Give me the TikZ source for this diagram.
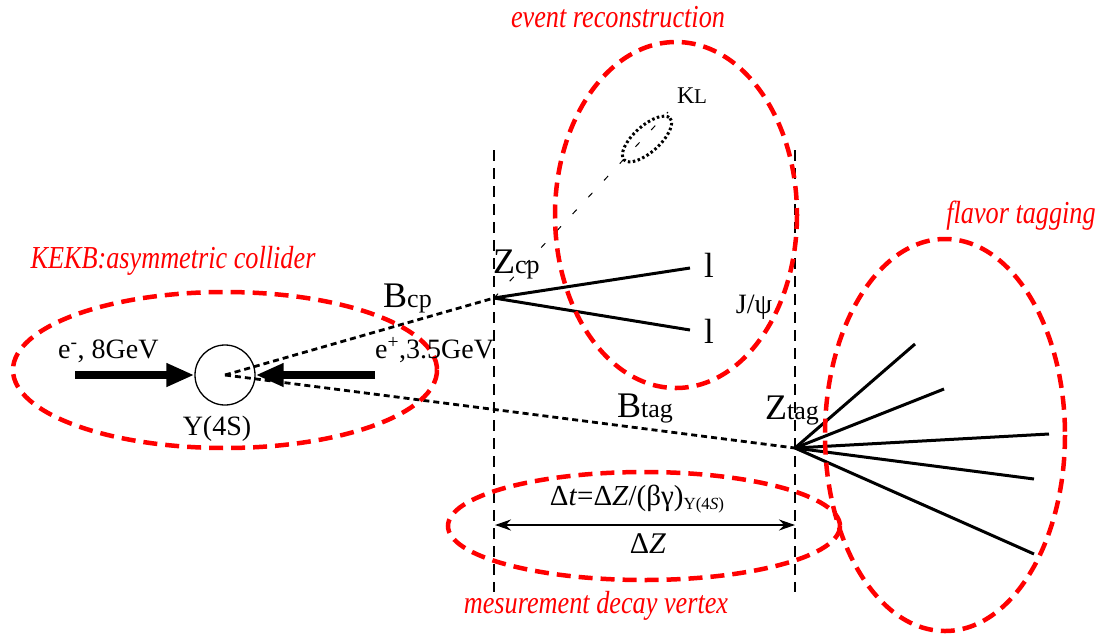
\documentclass[tikz,border=0pt]{standalone}
\usepackage{fontspec}
\setmainfont{Liberation Serif}
\newfontfamily\redfont{Liberation Serif}[FakeStretch=0.82]
\usetikzlibrary{arrows.meta}
\definecolor{kred}{RGB}{255,0,0}
\tikzset{
  reddash/.style={draw=kred, line width=4.5pt, dash pattern=on 14pt off 8pt},
  vline/.style={line width=2.5pt, dash pattern=on 11pt off 7pt},
  bline/.style={line width=2.8pt, dash pattern=on 6pt off 4pt},
  track/.style={line width=3pt},
  beam/.style={line width=8pt, -{Triangle[length=28pt,width=22pt]}},
  lbl/.style={inner sep=0pt, anchor=base, font=\fontsize{28}{30}\selectfont},
  redlbl/.style={inner sep=0pt, anchor=base, text=kred, font=\redfont\itshape\fontsize{32}{34}\selectfont},
  big/.style={inner sep=0pt, anchor=base west},
}
\newcommand{\sublbl}[2]{{\fontsize{36}{38}\selectfont #1}{\fontsize{26}{28}\selectfont #2}}
\begin{document}
\begin{tikzpicture}[x=1pt,y=-1pt]
\useasboundingbox (0,0) rectangle (1101,633);
% key points
\coordinate (zcp) at (494,298);
\coordinate (ztag) at (795,448);
\coordinate (v1t) at (494,150);
\coordinate (v1b) at (494,592);
\coordinate (v2t) at (795,150);
\coordinate (v2b) at (795,592);
\coordinate (eminus) at (75,375);
\coordinate (eplus) at (375,375);
\coordinate (l1) at (690,268);
\coordinate (l2) at (690,330);
\coordinate (kl) at (668,112);
\coordinate (f1) at (915,344);
\coordinate (f2) at (944,389);
\coordinate (f3) at (1049,434);
\coordinate (f4) at (1034,479);
\coordinate (f5) at (1034,554);
\coordinate (dza) at (495,525);
\coordinate (dzb) at (795,525);

% Y(4S)
\node[circle, draw, line width=1.3pt, minimum size=60pt, inner sep=0pt] (Y) at (225,375) {};

% vertical dashed lines
\draw[vline] (v1t) -- (v1b);
\draw[vline] (v2t) -- (v2b);

% B meson flight lines
\draw[bline] (Y.center) -- (zcp);
\draw[bline] (Y.center) -- (ztag);

% beams
\draw[beam] (eminus) -- (Y.west);
\draw[beam] (eplus) -- (Y.east);

% tracks
\draw[track] (zcp) -- (l1);
\draw[track] (zcp) -- (l2);
\draw[line width=1pt, dash pattern=on 6pt off 17pt] (zcp) -- (kl);
\draw[line width=3pt, dash pattern=on 2.5pt off 2.5pt, rotate around={42:(647,139)}] (647,139) ellipse [x radius=31, y radius=13];
\foreach \f in {f1,f2,f3,f4,f5} \draw[track] (ztag) -- (\f);

% Delta Z arrow
\draw[line width=2.2pt, {Stealth[length=16pt,width=11pt]}-{Stealth[length=16pt,width=11pt]}] (dza) -- (dzb);

% red regions
\draw[reddash] (225,370) ellipse [x radius=212, y radius=78];
\draw[reddash] (676,215) ellipse [x radius=121, y radius=173];
\draw[reddash] (945,435) ellipse [x radius=120, y radius=196];
\draw[reddash] (644,526) ellipse [x radius=196, y radius=54];

% labels
\node[lbl, anchor=base west] (elab) at (58,358) {e\textsuperscript{-}, 8GeV};
\node[lbl, anchor=base west] (plab) at (375,358) {e\textsuperscript{+},3.5GeV};
\node[lbl] (ylab) at (217,435) {Y(4S)};
\node[big] (bcplab) at (383,307) {\sublbl{B}{cp}};
\node[big] (zcplab) at (493,273) {\sublbl{Z}{cp}};
\node[big] (btaglab) at (617,417) {\sublbl{B}{tag}};
\node[big] (ztaglab) at (765,419) {\sublbl{Z}{tag}};
\node[lbl, font=\fontsize{35}{36}\selectfont] (lab1) at (709,277) {l};
\node[lbl, font=\fontsize{35}{36}\selectfont] (lab2) at (709,343) {l};
\node[lbl] (jpsi) at (754,313) {J/ψ};
\node[big] (kllab) at (677,103) {{\fontsize{24}{26}\selectfont K}\kern-0.5pt{\fontsize{21}{22}\selectfont L}};
\node[lbl, font=\fontsize{29}{30}\selectfont] (dt) at (637,505) {Δ\textit{t}=Δ\textit{Z}/(βγ)\raisebox{-4pt}{\fontsize{17}{18}\selectfont Y(4\textit{S})}};
\node[lbl, font=\fontsize{30}{32}\selectfont] (dz) at (648,553) {Δ\textit{Z}};

% red titles
\node[redlbl] (t1) at (618,27) {event reconstruction};
\node[redlbl] (t2) at (173,268) {KEKB:asymmetric collider};
\node[redlbl] (t3) at (1021,223) {flavor tagging};
\node[redlbl] (t4) at (596,613) {mesurement decay vertex};
\end{tikzpicture}
\end{document}
